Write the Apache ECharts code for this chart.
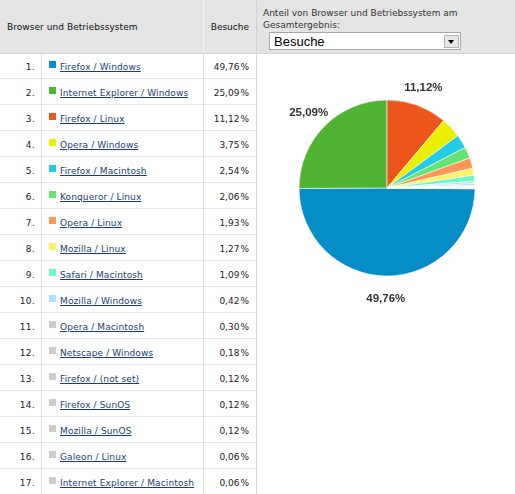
<!DOCTYPE html>
<html><head><meta charset="utf-8">
<script src="https://cdn.jsdelivr.net/npm/echarts@6/dist/echarts.min.js"></script>
<style>
html,body{margin:0;padding:0;width:515px;height:494px;overflow:hidden;background:#fff;font-family:"DejaVu Sans",Verdana,sans-serif;font-size:9px;color:#222;}
.abs{position:absolute;}
#hdr{left:0;top:0;width:515px;height:53px;background:#e4e4e4;border-bottom:1px solid #d4d4d4;}
.vl{position:absolute;width:1px;background:#e2e2e2;}
.row{position:absolute;left:0;width:256px;height:25px;border-bottom:1px solid #e6e6e6;}
.num{position:absolute;right:221px;top:2px;line-height:25px;text-align:right;letter-spacing:0.3px;}
.sq{position:absolute;left:49px;top:8px;width:7px;height:7px;}
.nm{position:absolute;left:60px;top:2px;line-height:25px;color:#1b3e72;text-decoration:underline;white-space:nowrap;letter-spacing:0.12px;}
.val{position:absolute;right:7px;top:2px;line-height:25px;text-align:right;}
#sel{left:269px;top:32px;width:190px;height:16px;background:#fff;border:1px solid #a8a8a8;font-family:"Liberation Sans",Arial,sans-serif;font-size:13px;color:#000;line-height:17px;}
#btn{position:absolute;right:1px;top:2px;width:13px;height:11px;background:#e8e8e8;border:1px solid #b4b4b4;}
#tri{position:absolute;left:3px;top:4px;width:0;height:0;border-left:3.5px solid transparent;border-right:3.5px solid transparent;border-top:4px solid #000;}
#chart{left:257px;top:54px;width:258px;height:440px;}
</style>
</head><body>
<div id="hdr" class="abs"></div>
<div class="abs" style="left:7px;top:22px;color:#111;letter-spacing:0.05px;">Browser und Betriebssystem</div>
<div class="abs" style="left:203px;top:0;width:1px;height:53px;background:#f4f4f4;"></div>
<div class="abs" style="left:256px;top:0;width:1px;height:53px;background:#d2d2d2;"></div>
<div class="abs" style="right:266px;top:22px;color:#111;">Besuche</div>
<div class="abs" style="left:263px;top:7px;line-height:12px;color:#333;">Anteil von Browser und Betriebssystem am<br>Gesamtergebnis:</div>
<div id="sel" class="abs"><span style="padding-left:4px;">Besuche</span><div id="btn"><div id="tri"></div></div></div>
<div id="tbl"></div>
<div id="chart" class="abs"></div>
<script>
// ---- data ----
var categories = ["Firefox / Windows","Internet Explorer / Windows","Firefox / Linux","Opera / Windows","Firefox / Macintosh","Konqueror / Linux","Opera / Linux","Mozilla / Linux","Safari / Macintosh","Mozilla / Windows","Opera / Macintosh","Netscape / Windows","Firefox / (not set)","Firefox / SunOS","Mozilla / SunOS","Galeon / Linux","Internet Explorer / Macintosh"];
var visits = [49.76,25.09,11.12,3.75,2.54,2.06,1.93,1.27,1.09,0.42,0.30,0.18,0.12,0.12,0.12,0.06,0.06];
var sliceColors = ["#058dc7","#50b432","#ed561b","#edef00","#24cbe5","#64e572","#ff9655","#fff263","#6af9c4","#b2deff","#cccccc","#cccccc","#cccccc","#cccccc","#cccccc","#cccccc","#cccccc"];
var labeledCount = 3;

function fmt(v){ return v.toFixed(2).replace('.', ',') + '%'; }

// ---- table ----
var tbl = document.getElementById('tbl');
var html = '';
var rowTop = 53, rowH = 26;
for (var i = 0; i < categories.length; i++) {
  html += '<div class="row" style="top:' + (rowTop + i * rowH) + 'px">' +
    '<div class="num">' + (i + 1) + '.</div>' +
    '<div class="sq" style="background:' + sliceColors[i] + '"></div>' +
    '<div class="nm">' + categories[i] + '</div>' +
    '<div class="val">' + fmt(visits[i]).replace('%', '<span style="margin-left:1px">%</span>') + '</div>' +
    '</div>';
}
html += '<div class="vl" style="left:41px;top:54px;height:440px"></div>';
html += '<div class="vl" style="left:203px;top:54px;height:440px"></div>';
html += '<div class="vl" style="left:256px;top:54px;height:440px;background:#d8d8d8"></div>';
tbl.innerHTML = html;

// ---- pie ----
var total = visits.reduce(function(a,b){return a+b;},0);
var firstTwo = visits[0] + visits[1];
var startAng = 90 + 360 * firstTwo / total - 360;

var chart = echarts.init(document.getElementById('chart'), null, {renderer:'canvas'});
chart.setOption({
  animation: false,
  series: [{
    type: 'pie',
    center: [130, 134],
    radius: [0, 88],
    startAngle: startAng,
    clockwise: true,
    avoidLabelOverlap: false,
    itemStyle: { borderColor: '#ffffff', borderWidth: 0.6 },
    label: {
      show: true,
      position: 'outside',
      color: '#333',
      fontFamily: '"Liberation Sans", Arial, sans-serif',
      fontWeight: 'bold',
      fontSize: 11.5,
      formatter: function(p){ return fmt(p.value); }
    },
    labelLine: { show: true, length: 21, length2: 0, lineStyle: { opacity: 0 } },
    labelLayout: function(p){
      if (p.labelLinePoints && p.labelLinePoints[1]) {
        return { x: p.labelLinePoints[1][0] - 1, y: p.labelLinePoints[1][1] + 2, align: 'center', verticalAlign: 'middle' };
      }
      return {};
    },
    emphasis: { disabled: true },
    data: visits.map(function(v, i){
      return {
        name: categories[i], value: v,
        itemStyle: { color: sliceColors[i] },
        label: { show: i < labeledCount },
        labelLine: { show: i < labeledCount }
      };
    })
  }]
});
</script>
</body></html>
